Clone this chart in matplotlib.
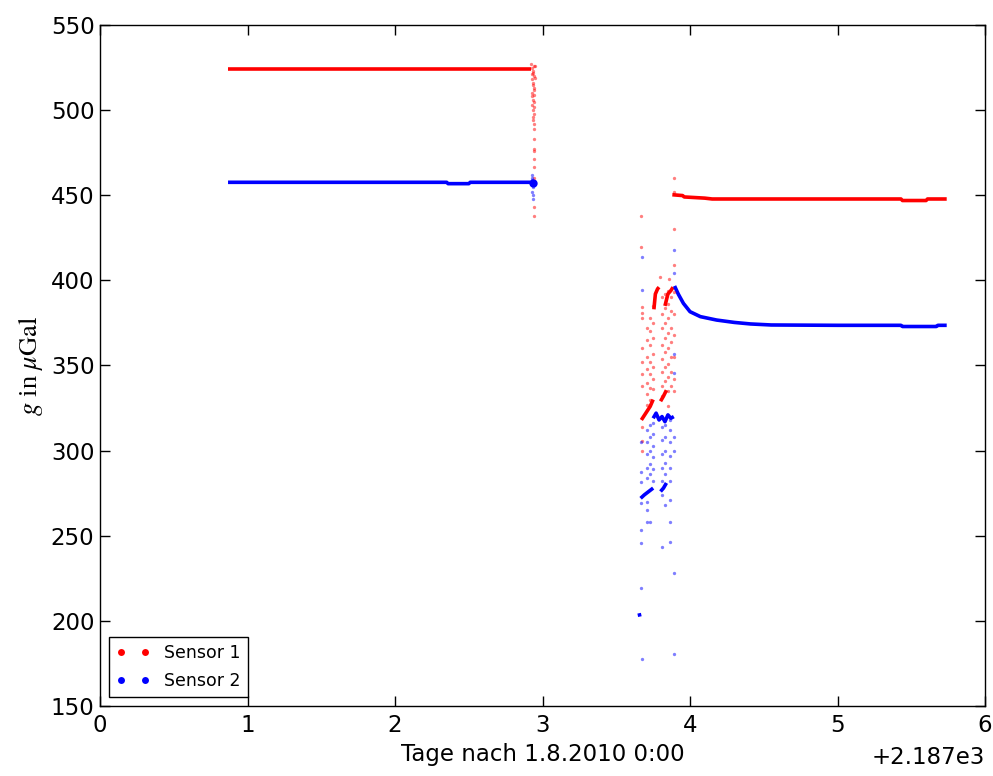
import matplotlib
matplotlib.use("Agg")
import matplotlib.pyplot as plt
from matplotlib.lines import Line2D
from matplotlib.ticker import ScalarFormatter

plt.rcParams['mathtext.fontset'] = 'stix'

X0 = 2187.0  # day offset

# ---- dense (continuous) parts, read as vertices -------------------------
s1_flat_x = [0.868, 2.92]
s1_flat_y = [524.0, 524.0]
s2_flat_x = [0.868, 2.35, 2.36, 2.50, 2.51, 2.93]
s2_flat_y = [457.6, 457.6, 456.8, 456.8, 457.6, 457.6]

s1_right_x = [3.88, 3.95, 3.96, 4.10, 4.15, 5.43, 5.44, 5.60, 5.61, 5.74]
s1_right_y = [450.3, 449.8, 449.0, 448.3, 447.8, 447.8, 446.9, 446.9, 447.8, 447.8]
s2_right_x = [3.895, 3.92, 3.955, 4.0, 4.07, 4.18, 4.30, 4.41, 4.55, 5.0, 5.43, 5.44, 5.67, 5.68, 5.74]
s2_right_y = [396.7, 392.0, 386.5, 381.6, 378.7, 376.7, 375.3, 374.4, 373.8, 373.6, 373.6, 372.9, 372.9, 373.6, 373.6]

s1_seg_a_x = [3.670, 3.700, 3.730, 3.750]
s1_seg_a_y = [318.0, 322.0, 326.0, 330.0]
s1_seg_b_x = [3.800, 3.820, 3.840]
s1_seg_b_y = [329.0, 332.0, 335.5]
s1_seg_c_x = [3.755, 3.765, 3.780, 3.790]
s1_seg_c_y = [383.0, 392.0, 395.0, 396.0]
s1_seg_d_x = [3.830, 3.850, 3.870, 3.885]
s1_seg_d_y = [385.0, 392.0, 394.0, 396.0]

s2_seg_a_x = [3.665, 3.690, 3.720, 3.750]
s2_seg_a_y = [272.0, 274.0, 276.0, 278.0]
s2_seg_b_x = [3.800, 3.820, 3.840]
s2_seg_b_y = [276.0, 278.0, 281.0]
s2_seg_c_x = [3.750, 3.770, 3.790, 3.810, 3.830, 3.850, 3.870, 3.890]
s2_seg_c_y = [319.0, 322.0, 318.0, 320.0, 317.0, 321.0, 319.0, 320.0]
s2_seg_d_x = [3.655, 3.660]
s2_seg_d_y = [204.5, 202.5]

# ---- scattered points ----------------------------------------------------
s1_pts_x = [2.925, 2.930, 2.935, 2.940, 2.945, 2.928, 2.933, 2.938, 2.943, 2.948,
            2.926, 2.931, 2.936, 2.941, 2.946, 2.929, 2.934, 2.939, 2.944, 2.932,
            2.937, 2.942, 2.935, 2.940, 2.938, 2.941, 2.939, 2.942, 2.940, 2.941,
            2.940, 2.941, 2.940, 2.941, 2.942,
            3.672, 3.672, 3.672, 3.672, 3.672, 3.672, 3.672, 3.672, 3.672, 3.672,
            3.706, 3.706, 3.706, 3.706, 3.706, 3.706, 3.706,
            3.729, 3.729, 3.729, 3.729, 3.729, 3.729, 3.729,
            3.751, 3.751, 3.751, 3.751, 3.751, 3.751, 3.751,
            3.808, 3.808, 3.808, 3.808, 3.808, 3.808, 3.808, 3.808,
            3.831, 3.831, 3.831, 3.831, 3.831, 3.831, 3.831,
            3.853, 3.853, 3.853, 3.853, 3.853, 3.853, 3.853, 3.853, 3.853,
            3.871, 3.871, 3.871, 3.871, 3.871, 3.871, 3.871,
            3.891, 3.891, 3.891, 3.891, 3.891, 3.891,
            3.670, 3.670, 3.894, 3.894, 3.797, 3.860, 3.890, 3.890]
s1_pts_y = [527, 525, 522, 526, 520, 518, 515, 523, 512, 526,
            510, 508, 516, 505, 519, 503, 500, 513, 498, 521,
            496, 509, 506, 502, 494, 489, 492, 483, 477, 476,
            471, 466.6, 460, 443, 438,
            384.5, 380.8, 378, 360, 352, 345, 338, 314, 305.7, 299.8,
            372, 365, 355, 348, 340, 333, 327,
            378, 370, 362, 352, 345, 337, 330,
            385, 375, 366, 357, 349, 342, 336,
            390, 380, 372, 362, 354, 346, 338, 332,
            392, 384, 375, 366, 358, 349, 341,
            394, 386, 378, 369, 360, 351, 343, 335, 326,
            390, 382, 372, 364, 355, 346, 338,
            393, 380, 368, 355, 342, 335,
            438, 419.4, 430, 409, 401.8, 400.6, 460, 452]

s2_pts_x = [2.930, 2.932, 2.934, 2.931, 2.933, 2.935, 2.932,
            3.670, 3.670, 3.670, 3.670, 3.670, 3.670,
            3.706, 3.706, 3.706, 3.706, 3.706, 3.706, 3.706, 3.706,
            3.729, 3.729, 3.729, 3.729, 3.729, 3.729,
            3.751, 3.751, 3.751, 3.751, 3.751, 3.751,
            3.808, 3.808, 3.808, 3.808, 3.808, 3.808, 3.808,
            3.831, 3.831, 3.831, 3.831, 3.831, 3.831,
            3.864, 3.864, 3.864, 3.864, 3.864, 3.864, 3.864, 3.864, 3.864,
            3.891, 3.891, 3.891, 3.891,
            3.672, 3.894, 3.894, 3.672, 3.665, 3.894, 3.894, 3.672]
s2_pts_y = [462, 459, 455, 452, 450, 448, 460,
            305, 287.6, 281.6, 269, 253.4, 245.9,
            312, 305, 298, 290, 284, 270, 265, 258,
            315, 308, 300, 292, 286, 258,
            316, 310, 303, 296, 289, 282,
            314, 306, 298, 290, 282, 274, 243.6,
            315, 308, 300, 293, 286, 268,
            318, 312, 305, 297, 290, 282, 271, 258, 246.4,
            357, 345.6, 308, 300,
            413.5, 417.8, 404.6, 394.3, 219.1, 228.3, 180.5, 177.4]

offset_label = '+2.187e3'

fig = plt.figure(figsize=(9.93, 7.76), dpi=100, facecolor='white')
ax = fig.add_axes([0.1007, 0.0902, 0.8913, 0.8776])

def sx(v):
    return [X0 + a for a in v]

lw = 2.6
for xs, ys in [(s1_flat_x, s1_flat_y), (s1_right_x, s1_right_y), (s1_seg_a_x, s1_seg_a_y),
               (s1_seg_b_x, s1_seg_b_y), (s1_seg_c_x, s1_seg_c_y), (s1_seg_d_x, s1_seg_d_y)]:
    ax.plot(sx(xs), ys, '-', color='red', lw=lw, solid_capstyle='butt')
for xs, ys in [(s2_flat_x, s2_flat_y), (s2_right_x, s2_right_y), (s2_seg_a_x, s2_seg_a_y),
               (s2_seg_b_x, s2_seg_b_y), (s2_seg_c_x, s2_seg_c_y), (s2_seg_d_x, s2_seg_d_y)]:
    ax.plot(sx(xs), ys, '-', color='blue', lw=lw, solid_capstyle='butt')

ax.plot(sx(s1_pts_x), s1_pts_y, 'o', color='red', ms=2.4, mew=0, alpha=0.5)
ax.plot(sx(s2_pts_x), s2_pts_y, 'o', color='blue', ms=2.4, mew=0, alpha=0.5)
ax.plot([X0 + 2.935], [457.3], 'o', color='blue', ms=6, mew=0)

ax.set_xlim(X0, X0 + 6)
ax.set_ylim(150, 550)
fmt = ScalarFormatter(useOffset=X0)
ax.xaxis.set_major_formatter(fmt)
ax.set_xticks([X0 + i for i in range(7)])
ax.set_yticks(range(150, 551, 50))

ax.tick_params(which='both', direction='in', top=True, right=True, length=7,
               width=1, labelsize=16.5, pad=6)
ax.tick_params(axis='y', pad=4)
ax.xaxis.get_offset_text().set_visible(False)
ax.text(1.0, -0.076, offset_label, transform=ax.transAxes, ha='right', va='center',
        fontsize=16.5)
for sp in ax.spines.values():
    sp.set_linewidth(1.0)

ax.set_xlabel('Tage nach 1.8.2010 0:00', fontsize=16.5, labelpad=4)
ax.set_ylabel(r'$g$ in $\mu\mathrm{Gal}$', fontsize=19, family='Liberation Serif', labelpad=4)

handles = [Line2D([], [], marker='o', ls='none', color='red', ms=5, mew=0),
           Line2D([], [], marker='o', ls='none', color='blue', ms=5, mew=0)]
leg = ax.legend(handles, ['Sensor 1', 'Sensor 2'], loc='lower left', numpoints=2,
                fontsize=12.5, fancybox=False, framealpha=1, borderaxespad=0.5,
                handlelength=2.0, labelspacing=0.6)
leg.get_frame().set_edgecolor('black')
leg.get_frame().set_linewidth(1.0)

fig.savefig('out.png', dpi=100, facecolor='white')
